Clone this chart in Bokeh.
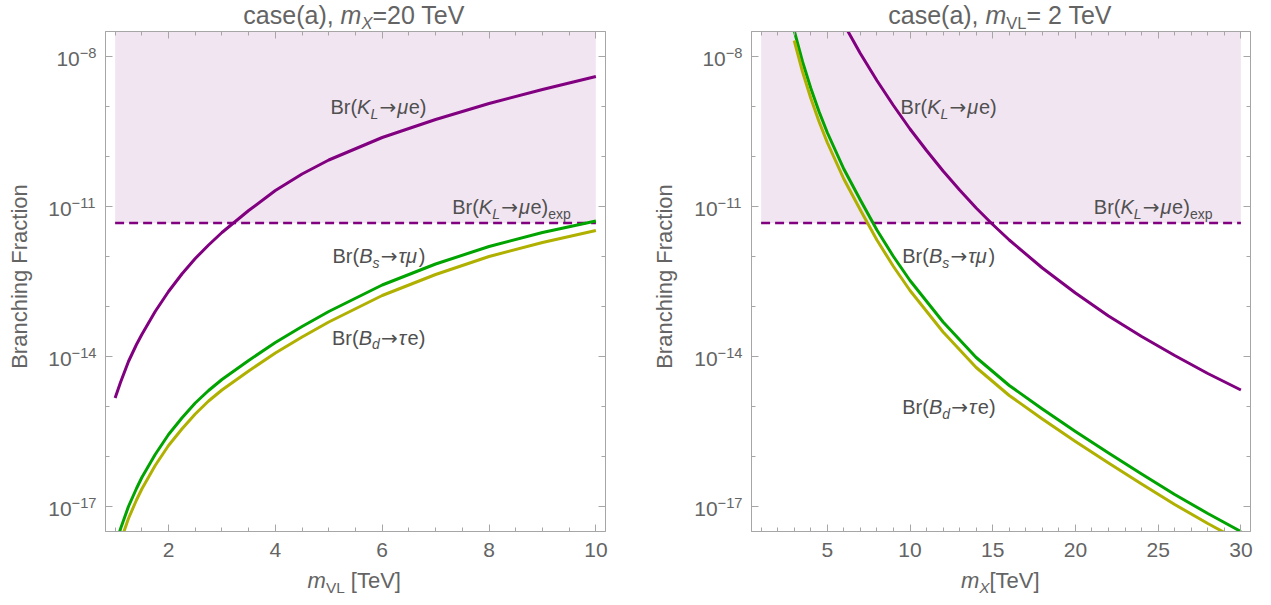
import math
from bokeh.plotting import figure
from bokeh.models import (Range1d, FixedTicker, CustomJSTickFormatter, LinearAxis,
                          LogAxis, Label, BoxAnnotation)
from bokeh.layouts import row, column
from bokeh.embed import file_html
from bokeh.resources import INLINE

# ---------------- data (log10 of branching fractions) -------------
# left panel: case(a), m_X = 20 TeV, vs m_VL [TeV]
mvl = [1.0, 1.1, 1.25, 1.4, 1.5, 1.75, 2.0, 2.25, 2.5, 2.75, 3.0, 3.5, 4.0, 4.5, 5.0,
       6.0, 7.0, 8.0, 9.0, 10.0]
log_kl_mue_vs_mvl = [-14.83, -14.52, -14.10, -13.76, -13.56, -13.10, -12.70, -12.35,
                     -12.04, -11.77, -11.52, -11.08, -10.68, -10.35, -10.07, -9.62,
                     -9.26, -8.94, -8.66, -8.40]
log_bs_taumu_vs_mvl = [-17.80, -17.45, -17.00, -16.64, -16.42, -15.96, -15.56, -15.23,
                       -14.93, -14.68, -14.46, -14.08, -13.72, -13.40, -13.10, -12.57,
                       -12.15, -11.80, -11.52, -11.29]
log_bd_taue_vs_mvl = [-18.05, -17.70, -17.24, -16.87, -16.65, -16.18, -15.78, -15.45,
                      -15.15, -14.89, -14.67, -14.29, -13.93, -13.61, -13.31, -12.78,
                      -12.36, -12.00, -11.72, -11.48]

# right panel: case(a), m_VL = 2 TeV, vs m_X [TeV]
mx_kl = [6.0, 7.0, 8.0, 9.0, 10.0, 11.0, 12.0, 13.0, 14.0, 15.0, 16.0, 18.0, 20.0,
         22.0, 24.0, 26.0, 28.0, 30.0]
log_kl_mue_vs_mx = [-7.35, -7.94, -8.48, -8.98, -9.45, -9.88, -10.29, -10.67, -11.03,
                    -11.36, -11.67, -12.23, -12.73, -13.19, -13.60, -13.98, -14.34, -14.67]
mx_b = [3.0, 3.5, 4.0, 4.5, 5.0, 6.0, 7.0, 8.0, 9.0, 10.0, 12.0, 14.0, 16.0, 18.0,
        20.0, 22.0, 24.0, 26.0, 28.0, 30.0]
log_bs_taumu_vs_mx = [-7.48, -8.10, -8.63, -9.10, -9.52, -10.25, -10.87, -11.47, -12.00,
                      -12.48, -13.31, -14.02, -14.58, -15.05, -15.50, -15.93, -16.35,
                      -16.76, -17.14, -17.50]
log_bd_taue_vs_mx = [-7.68, -8.30, -8.83, -9.30, -9.72, -10.45, -11.07, -11.67, -12.20,
                     -12.68, -13.51, -14.22, -14.78, -15.25, -15.70, -16.13, -16.55,
                     -16.96, -17.34, -17.70]

br_kl_mue_exp = 4.7e-12          # experimental limit (dashed line)
mvl_span = [1.0, 10.0]            # plotted m_VL interval
mx_span = [1.0, 30.0]             # plotted m_X interval

y_major = [1e-17, 1e-14, 1e-11, 1e-8]
y_minor = [10.0 ** (-k) for k in range(7, 19)]
x_major_left = [2, 4, 6, 8, 10]
x_minor_left = [1 + 0.5 * i for i in range(19)]
x_major_right = [5, 10, 15, 20, 25, 30]
x_minor_right = list(range(1, 31))

# ---------------- style ----------------
FONT = "Liberation Sans"
ARROW_FONT = "DejaVu Sans"
PURPLE = "#800080"
GREEN = "#00a300"
OLIVE = "#b0b000"
FRAME = "#a6a6a6"
TXT = "#646464"
LBL = "#505050"
YLO, YHI = 10 ** -17.5, 10 ** -7.5
BASE_FIX = 0.38   # baseline correction (fraction of font size) for Label placement

W = {' ': .278, '(': .333, ')': .333, ',': .278, '=': .584, '[': .278, ']': .278,
     'B': .667, 'F': .611, 'K': .667, 'L': .556, 'T': .611, 'V': .667, 'X': .667,
     'a': .556, 'c': .5, 'd': .556, 'e': .556, 'g': .556, 'h': .556, 'i': .222,
     'm': .833, 'n': .556, 'o': .556, 'p': .556, 'r': .333, 's': .5, 't': .278,
     'x': .5, 'μ': .576, 'τ': .44, '→': .95, '−': .584}


def tw(s, size):
    return sum(W.get(c, .556) for c in s) * size


def rich(p, x, y, segs, size, color, align="left", dx=0.0, dy=0.0, sub=0.7):
    items = []
    for t, it, kind in segs:
        fs = size * (sub if kind else 1.0)
        items.append((t, it, kind, fs, tw(t, fs)))
    total = sum(i[4] for i in items)
    cur = dx - (total / 2 if align == "center" else total if align == "right" else 0)
    for t, it, kind, fs, w in items:
        lead = len(t) - len(t.lstrip(" "))
        shown = t.lstrip(" ")
        off = dy + (-0.2 * size if kind == "sub" else 0.36 * size if kind == "sup" else 0)
        off += BASE_FIX * fs
        is_arrow = shown == "→"
        p.add_layout(Label(x=x, y=y, x_offset=cur + tw(" " * lead, fs) + (0.06 * fs if is_arrow else 0),
                           y_offset=off, text=shown,
                           text_font=ARROW_FONT if is_arrow else FONT,
                           text_font_size=f"{fs:.1f}px",
                           text_font_style="italic" if it else "normal",
                           text_color=color, text_align="left",
                           text_baseline="alphabetic"))
        cur += w


blank = CustomJSTickFormatter(code="return '';")


def style_axis(ax, ticker, labels=True, color=FRAME):
    ax.ticker = ticker
    ax.axis_line_color = color
    ax.major_tick_line_color = color
    ax.minor_tick_line_color = color
    ax.major_tick_in = 7
    ax.major_tick_out = 0
    ax.minor_tick_in = 4
    ax.minor_tick_out = 0
    if labels:
        ax.major_label_text_font = FONT
        ax.major_label_text_font_size = "21px"
        ax.major_label_text_color = TXT
        ax.major_label_standoff = 11
    else:
        ax.formatter = blank
        ax.major_label_text_font_size = "1px"
        ax.major_label_standoff = 0


TITLE_H = 31
MAIN_H = 536
BOT = 36
XLAB_H = 34


def strip(w, h):
    s = figure(width=w, height=h, x_range=Range1d(0, w), y_range=Range1d(0, h),
               x_axis_location=None, y_axis_location=None, min_border=0,
               output_backend="svg", toolbar_location=None)
    s.outline_line_color = None
    s.grid.visible = False
    return s


def panel(xr, ylab_w, main_w, mbr, xmaj, xmin_, title_segs, xlabel_segs, series, span,
          texts):
    p = figure(width=main_w, height=MAIN_H, x_range=Range1d(*xr),
               y_range=Range1d(YLO, YHI), y_axis_type="log", output_backend="svg",
               toolbar_location=None, min_border_left=0, min_border_right=mbr,
               min_border_top=0, min_border_bottom=BOT)
    p.grid.visible = False
    p.outline_line_color = FRAME

    xt = FixedTicker(ticks=xmaj, minor_ticks=xmin_)
    yt = FixedTicker(ticks=y_major, minor_ticks=y_minor)
    style_axis(p.xaxis[0], xt, True)
    style_axis(p.yaxis[0], yt, False)
    top = LinearAxis()
    style_axis(top, xt, False)
    p.add_layout(top, "above")
    right = LogAxis()
    style_axis(right, yt, False)
    p.add_layout(right, "right")

    p.add_layout(BoxAnnotation(left=span[0], right=span[1], bottom=br_kl_mue_exp,
                               fill_color=PURPLE, fill_alpha=0.1, line_alpha=0,
                               level="underlay"))
    p.line(span, [br_kl_mue_exp, br_kl_mue_exp], line_color=PURPLE, line_width=2.5,
           line_dash="9 5")
    for xs, ys, col in series:
        p.line(xs, [10 ** v for v in ys], line_color=col, line_width=3,
               line_join="round")
    for (x, ly, segs) in texts:
        rich(p, x, 10 ** ly, segs, 20, LBL)

    # left strip holding the y tick labels and the y-axis title (same y scale)
    yl = figure(width=ylab_w, height=MAIN_H, x_range=Range1d(0, ylab_w),
                y_range=Range1d(YLO, YHI), y_axis_type="log", x_axis_location=None,
                y_axis_location=None, min_border_left=0, min_border_right=0,
                min_border_top=0, min_border_bottom=BOT, output_backend="svg",
                toolbar_location=None)
    yl.outline_line_color = None
    yl.grid.visible = False
    ghost = LinearAxis()
    style_axis(ghost, FixedTicker(ticks=[10, 50, 90], minor_ticks=[]), False, None)
    yl.add_layout(ghost, "above")
    for t in y_major:
        n = int(round(-math.log10(t)))
        rich(yl, ylab_w - 9, t, [("10", False, ""), ("−%d" % n, False, "sup")], 21, TXT,
             align="right", dy=-10)
    yl.add_layout(Label(x=18.5, y=10 ** -12.4, text="Branching Fraction",
                        angle=math.pi / 2, text_font=FONT, text_font_size="22px",
                        text_color=TXT, text_align="center", text_baseline="middle"))

    block_w = ylab_w + main_w
    xc = ylab_w + 250  # centre of the 500 px frame
    ts = strip(block_w, TITLE_H)
    rich(ts, xc, TITLE_H - 24, title_segs, 25, TXT, align="center", sub=0.66)
    xs_ = strip(block_w, XLAB_H)
    rich(xs_, xc, XLAB_H - 21, xlabel_segs, 22, TXT, align="center")
    return column(ts, row(yl, p), xs_)


KL = [("Br(", False, ""), ("K", True, ""), ("L", True, "sub"), ("→", False, ""),
      ("μ", True, ""), ("e)", False, "")]
KLEXP = KL + [("exp", False, "sub")]
BS = [("Br(", False, ""), ("B", True, ""), ("s", True, "sub"), ("→", False, ""),
      ("τμ", True, ""), (")", False, "")]
BD = [("Br(", False, ""), ("B", True, ""), ("d", True, "sub"), ("→", False, ""),
      ("τ", True, ""), ("e)", False, "")]

b1 = panel((0.82, 10.18), 105, 540, 40, x_major_left, x_minor_left,
           [("case(a), ", False, ""), ("m", True, ""), ("X", True, "sub"),
            ("=20 TeV", False, "")],
           [("m", True, ""), ("VL", False, "sub"), (" [TeV]", False, "")],
           [(mvl, log_kl_mue_vs_mvl, PURPLE), (mvl, log_bs_taumu_vs_mvl, GREEN),
            (mvl, log_bd_taue_vs_mvl, OLIVE)],
           mvl_span,
           [(5.03, -9.17, KL), (7.31, -11.17, KLEXP), (5.07, -12.15, BS),
            (5.06, -13.78, BD)])

b2 = panel((0.42, 30.58), 106, 515, 16, x_major_right, x_minor_right,
           [("case(a), ", False, ""), ("m", True, ""), ("VL", False, "sub"),
            ("= 2 TeV", False, "")],
           [("m", True, ""), ("X", True, "sub"), ("[TeV]", False, "")],
           [(mx_kl, log_kl_mue_vs_mx, PURPLE), (mx_b, log_bs_taumu_vs_mx, GREEN),
            (mx_b, log_bd_taue_vs_mx, OLIVE)],
           mx_span,
           [(9.43, -9.17, KL), (21.11, -11.17, KLEXP), (9.53, -12.15, BS),
            (9.53, -15.17, BD)])

layout = row(b1, b2)
open("out.html", "w").write(file_html(layout, INLINE))
